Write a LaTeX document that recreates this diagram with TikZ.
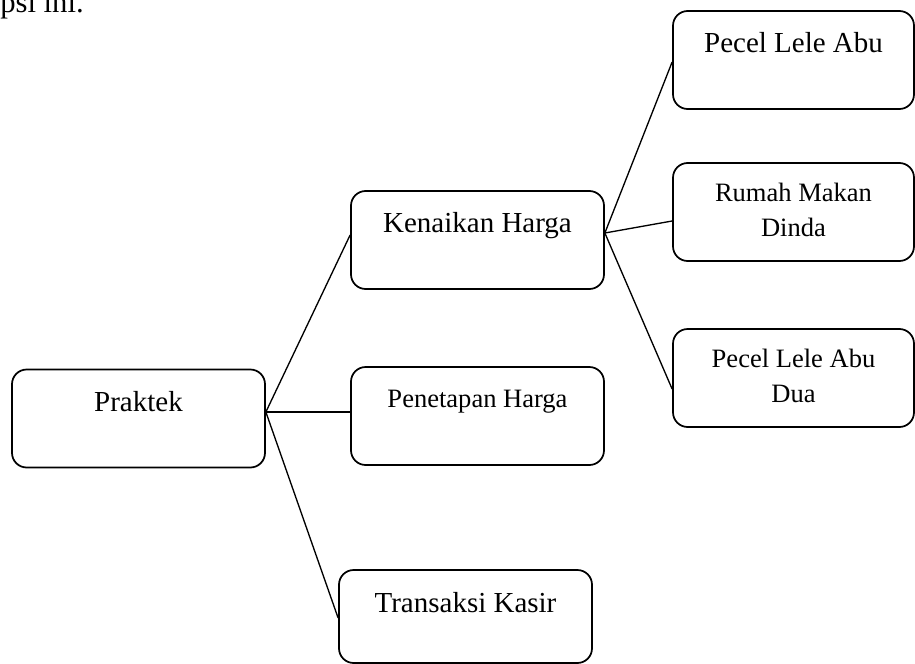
\documentclass[tikz,border=0pt]{standalone}
\usepackage{fontspec}
\setmainfont{Liberation Serif}
\usetikzlibrary{calc}
\tikzset{
  box/.style={draw, line width=1.3pt, rounded corners=11pt, inner sep=0pt,
    minimum width=189.75pt, minimum height=73.5pt},
  rbox/.style={box, minimum width=180.75pt},
  big/.style={font=\fontsize{21.75}{26}\selectfont, anchor=base, inner sep=0pt},
  small/.style={font=\fontsize{19.9}{26.25}\selectfont, anchor=base, inner sep=0pt, align=center},
  link/.style={line width=1pt}
}
\begin{document}
\begin{tikzpicture}[x=0.75pt,y=-0.75pt]
\useasboundingbox (0,0) rectangle (915,664);
\clip (0,0) rectangle (915,664);
\node[font=\fontsize{23}{27}\selectfont, inner sep=0pt, anchor=base west] (top) at (0,12) {psi ini.};
% boxes
\node[box] (prak) at (138.5,418.5) {};
\node[box] (naik) at (477.5,240) {};
\node[box] (tetap) at (477.5,416) {};
\node[box, minimum height=69.75pt] (trans) at (465.5,616.5) {};
\node[rbox] (pecelA) at (793.5,60) {};
\node[rbox] (rumah) at (793.5,212) {};
\node[rbox] (pecelB) at (793.5,378) {};
% texts
\node[big] (prakT) at ($(prak.north)+(0,43)$) {Praktek};
\node[big] (naikT) at ($(naik.north)+(0,42)$) {Kenaikan Harga};
\node[small] (tetapT) at ($(tetap.north)+(0,41)$) {Penetapan Harga};
\node[big] (transT) at ($(trans.north)+(0,43)$) {Transaksi Kasir};
\node[big] (pecelAT) at ($(pecelA.north)+(0,42)$) {Pecel Lele Abu};
\node[small] (rumahT) at ($(rumah.north)+(0,74)$) {Rumah Makan\\Dinda};
\node[small] (pecelBT) at ($(pecelB.north)+(0,74)$) {Pecel Lele Abu\\Dua};
% connectors
\coordinate (p0) at ($(prak.east)+(0,-6.5)$);
\coordinate (k0) at ($(naik.east)+(0,-7)$);
\draw[link] (p0) -- ($(naik.west)+(0,-5)$);
\draw[link] (p0) -- ($(tetap.west)+(0,-4)$);
\draw[link] (p0) -- ($(trans.west)+(0,1.5)$);
\draw[link] (k0) -- ($(pecelA.west)+(0,2)$);
\draw[link] (k0) -- ($(rumah.west)+(0,9)$);
\draw[link] (k0) -- ($(pecelB.west)+(0,11)$);
\end{tikzpicture}
\end{document}
